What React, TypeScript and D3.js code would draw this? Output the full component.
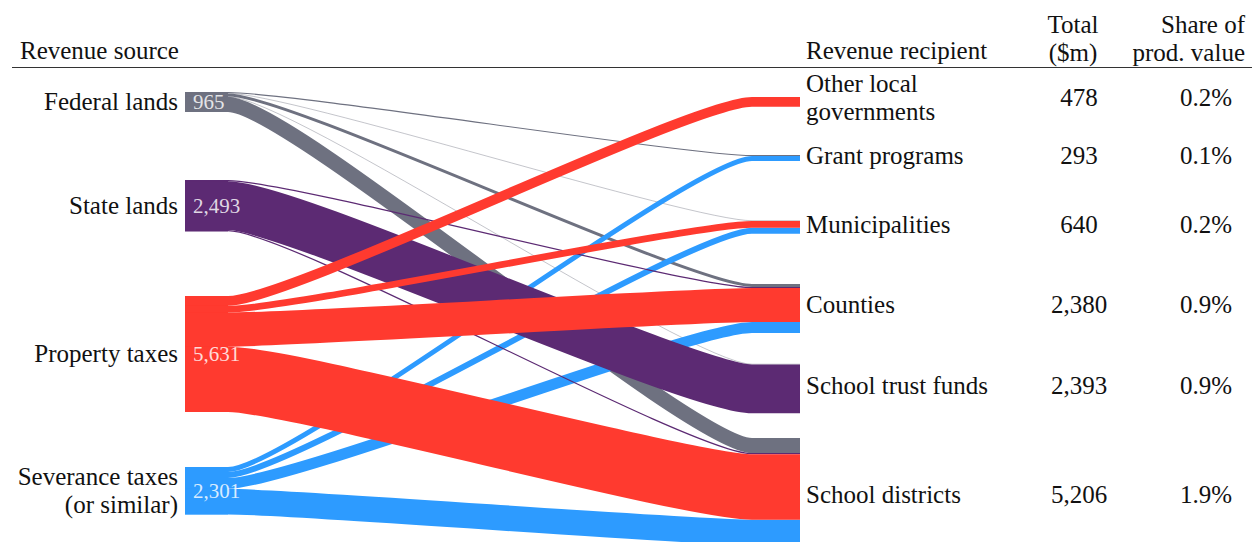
import React from "react";
import * as d3 from "d3";

// ---------- data ----------
const sources = ["Federal lands", "State lands", "Property taxes", "Severance taxes (or similar)"];
const sourceLabelLines = [["Federal lands"], ["State lands"], ["Property taxes"], ["Severance taxes", "(or similar)"]];
const sourceColors = ["#6e7180", "#5c2a73", "#ff3a2f", "#2d9bff"];

const targets = ["Other local governments", "Grant programs", "Municipalities", "Counties", "School trust funds", "School districts"];
const targetLabelLines = [["Other local", "governments"], ["Grant programs"], ["Municipalities"], ["Counties"], ["School trust funds"], ["School districts"]];
const targetTotals = [478, 293, 640, 2380, 2393, 5206];
const targetShare = ["0.2%", "0.1%", "0.2%", "0.9%", "0.9%", "1.9%"];

// flows[source][target] in $m
const flowFederal = [0, 53, 20, 140, 20, 732];
const flowState = [0, 0, 0, 60, 2373, 60];
const flowProperty = [478, 0, 330, 1650, 0, 3173];
const flowSeverance = [0, 240, 290, 530, 0, 1241];
const flows = [flowFederal, flowState, flowProperty, flowSeverance];

const headerLeft = "Revenue source";
const headerRight = "Revenue recipient";
const headerTotal = ["Total", "($m)"];
const headerShare = ["Share of", "prod. value"];

// ---------- layout ----------
const W = 1252;
const H = 542;
const FONT = '"Liberation Serif"';
const leftTops = [92, 180, 296, 467];
const rightTops = [97, 155, 220.5, 284, 364, 438];
const rightLabelDy = [4, 6, 6, 4, 5, 11];
const X0 = 185;
const XL = 228;
const XR = 752;
const X1 = 800;
const HANDLE = 62;

const hScale = d3.scaleLinear().domain([0, 1000]).range([0, 20.6]);
const fmt = d3.format(",");

export default function App() {
  const sourceTotals = flows.map((r) => d3.sum(r));

  const links: any[] = [];
  flows.forEach((row, s) => {
    let off = leftTops[s];
    row.forEach((v, t) => {
      if (v <= 0) return;
      const w = hScale(v);
      links.push({ s, t, v, w, y0: off + w / 2 });
      off += w;
    });
  });
  targets.forEach((_, t) => {
    let off = rightTops[t];
    links
      .filter((l) => l.t === t)
      .sort((a, b) => a.s - b.s)
      .forEach((l) => {
        l.y1 = off + l.w / 2;
        off += l.w;
      });
  });

  const drawOrder = d3.sort(d3.range(sources.length), (i) => sourceTotals[i]);

  const linkPath = (l: any) => {
    const p = d3.path();
    p.moveTo(X0, l.y0);
    p.lineTo(XL, l.y0);
    p.bezierCurveTo(XL + HANDLE, l.y0, XR - HANDLE, l.y1, XR, l.y1);
    p.lineTo(X1, l.y1);
    return p.toString();
  };

  const T = (props: any) => (
    <text fill="#111" fontSize={25} style={{ fontFamily: FONT }} {...props} />
  );

  return (
    <svg width={W} height={H} style={{ position: "absolute", left: 0, top: 0, background: "#fff" }}>
      <T x={20} y={59}>{headerLeft}</T>
      <T x={806} y={59}>{headerRight}</T>
      {headerTotal.map((s, i) => (
        <T key={s} x={1073} y={33 + i * 28} textAnchor="middle">{s}</T>
      ))}
      {headerShare.map((s, i) => (
        <T key={s} x={1245} y={33 + i * 28} textAnchor="end">{s}</T>
      ))}
      <line x1={12} x2={W} y1={67.5} y2={67.5} stroke="#333" strokeWidth={1} />

      {sources.map((s, i) => (
        <rect key={s} x={X0} y={leftTops[i]} width={XL - X0} height={hScale(sourceTotals[i])} fill={sourceColors[i]} />
      ))}

      {drawOrder.map((s) => (
        <g key={s}>
          {links
            .filter((l) => l.s === s)
            .map((l) => (
              <path key={l.t} d={linkPath(l)} fill="none" stroke={sourceColors[s]} strokeWidth={l.w} />
            ))}
        </g>
      ))}

      {sources.map((s, i) => {
        const c = leftTops[i] + hScale(sourceTotals[i]) / 2;
        const lines = sourceLabelLines[i];
        return (
          <g key={s}>
            {lines.map((ln, j) => (
              <T key={ln} x={178} y={c + 8.5 + (j - (lines.length - 1) / 2) * 28} textAnchor="end">{ln}</T>
            ))}
            <text x={193} y={c + 7.5} fill="#fff" fillOpacity={0.82} fontSize={21} style={{ fontFamily: FONT }}>
              {fmt(sourceTotals[i])}
            </text>
          </g>
        );
      })}

      {targets.map((t, i) => {
        const c = rightTops[i] + hScale(targetTotals[i]) / 2 + rightLabelDy[i];
        const lines = targetLabelLines[i];
        return (
          <g key={t}>
            {lines.map((ln, j) => (
              <T key={ln} x={806} y={c + (j - (lines.length - 1) / 2) * 28}>{ln}</T>
            ))}
            <T x={1079} y={c} textAnchor="middle">{fmt(targetTotals[i])}</T>
            <T x={1232} y={c} textAnchor="end">{targetShare[i]}</T>
          </g>
        );
      })}
    </svg>
  );
}
